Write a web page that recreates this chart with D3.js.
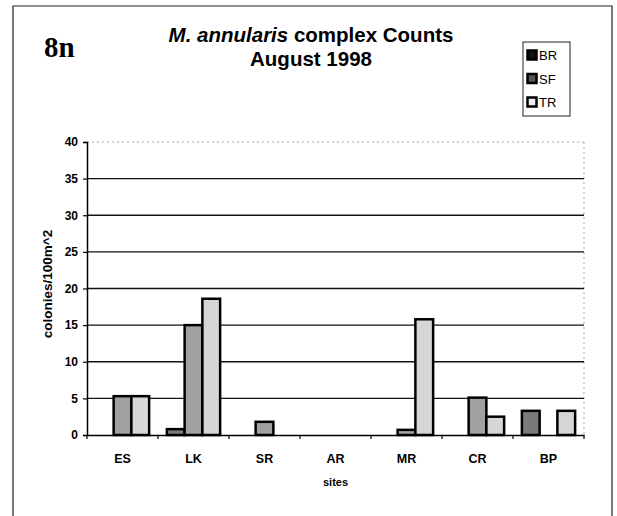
<!DOCTYPE html>
<html>
<head>
<meta charset="utf-8">
<script src="https://cdn.jsdelivr.net/npm/d3@7"></script>
<style>
  html, body { margin: 0; padding: 0; background: #fff; }
  svg { display: block; }
</style>
</head>
<body>
<svg id="chart" width="617" height="516"></svg>
<script>
const sites = ["ES", "LK", "SR", "AR", "MR", "CR", "BP"];
const seriesNames = ["BR", "SF", "TR"];
const BR = [0, 0.8, 0, 0, 0, 0, 3.3];
const SF = [5.3, 15.0, 1.8, 0, 0.7, 5.1, 0];
const TR = [5.3, 18.6, 0, 0, 15.8, 2.5, 3.3];
const yTicks = [0, 5, 10, 15, 20, 25, 30, 35, 40];
const colors = { BR: "#7a7a7a", SF: "#a0a0a0", TR: "#d6d6d6" };

const seriesValues = { BR, SF, TR };
const svg = d3.select("#chart");
const SANS = "Liberation Sans, Arial, sans-serif";

// outer frame
svg.append("path")
  .attr("d", "M13,520 L13,6 L612,6 L612,520")
  .attr("fill", "none").attr("stroke", "#222").attr("stroke-width", 1.2);

const plot = { left: 87, right: 584, top: 142, bottom: 435 };

const x = d3.scaleBand().domain(sites).range([plot.left, plot.right]).paddingInner(0).paddingOuter(0);
const xs = d3.scaleBand().domain(seriesNames).range([0, x.bandwidth()]).paddingInner(0).paddingOuter(0.5);
const y = d3.scaleLinear().domain([0, 40]).range([plot.bottom, plot.top]);

// plot area top/right dotted border
svg.append("line").attr("x1", plot.left).attr("x2", plot.right).attr("y1", y(40)).attr("y2", y(40))
  .attr("stroke", "#aaa").attr("stroke-dasharray", "2,3");
svg.append("line").attr("x1", plot.right).attr("x2", plot.right).attr("y1", y(40)).attr("y2", y(0))
  .attr("stroke", "#aaa").attr("stroke-dasharray", "2,3");

// gridlines
svg.append("g").selectAll("line").data(yTicks.filter(t => t > 0 && t < 40)).join("line")
  .attr("x1", plot.left).attr("x2", plot.right)
  .attr("y1", d => y(d)).attr("y2", d => y(d))
  .attr("stroke", "#111").attr("stroke-width", 1.3);

// bars
const g = svg.append("g");
sites.forEach((s, i) => {
  seriesNames.forEach(k => {
    const v = seriesValues[k][i];
    if (v <= 0) return;
    g.append("rect")
      .attr("x", x(s) + xs(k))
      .attr("y", y(v))
      .attr("width", xs.bandwidth())
      .attr("height", y(0) - y(v))
      .attr("fill", colors[k])
      .attr("stroke", "#000")
      .attr("stroke-width", 2.5);
  });
});

// y axis
const yAxis = d3.axisLeft(y).tickValues(yTicks).tickSize(4).tickPadding(5);
const ya = svg.append("g").attr("transform", `translate(${plot.left},0)`).call(yAxis);
ya.select(".domain").attr("stroke", "#000").attr("stroke-width", 1.5);
ya.selectAll(".tick line").attr("stroke", "#000").attr("stroke-width", 1.2);
ya.selectAll("text").attr("font-family", SANS)
  .attr("font-weight", "bold").attr("font-size", 12).attr("fill", "#000");

// x axis
const xAxis = d3.axisBottom(x).tickSize(0).tickPadding(19);
const xa = svg.append("g").attr("transform", `translate(0,${plot.bottom})`).call(xAxis);
xa.select(".domain").attr("stroke", "#000").attr("stroke-width", 1.5);
xa.selectAll("text").attr("font-family", SANS)
  .attr("font-weight", "bold").attr("font-size", 12.5).attr("fill", "#000");
// category boundary ticks
const bounds = sites.map(s => x(s)).concat([plot.right]);
xa.append("g").selectAll("line").data(bounds).join("line")
  .attr("x1", d => d).attr("x2", d => d).attr("y1", 0).attr("y2", 4)
  .attr("stroke", "#000").attr("stroke-width", 1.2);

// axis titles
svg.append("text").attr("x", (plot.left + plot.right) / 2).attr("y", 486)
  .attr("text-anchor", "middle").attr("font-family", SANS)
  .attr("font-weight", "bold").attr("font-size", 11).text("sites");
svg.append("text").attr("transform", `translate(52,284) rotate(-90)`)
  .attr("text-anchor", "middle").attr("font-family", SANS)
  .attr("font-weight", "bold").attr("font-size", 13.5).text("colonies/100m^2");

// title
const title = svg.append("text").attr("x", 311).attr("y", 42).attr("text-anchor", "middle")
  .attr("font-family", SANS).attr("font-weight", "bold").attr("font-size", 20.5);
title.append("tspan").attr("font-style", "italic").text("M. annularis");
title.append("tspan").text(" complex Counts");
svg.append("text").attr("x", 311).attr("y", 66).attr("text-anchor", "middle")
  .attr("font-family", SANS).attr("font-weight", "bold").attr("font-size", 20.5)
  .text("August 1998");

// panel label
svg.append("text").attr("x", 44).attr("y", 57)
  .attr("font-family", "Liberation Serif, Times New Roman, serif").attr("font-weight", "bold").attr("font-size", 29)
  .text("8n");

// legend
const lg = svg.append("g");
lg.append("rect").attr("x", 523).attr("y", 42).attr("width", 47).attr("height", 74)
  .attr("fill", "#fff").attr("stroke", "#222").attr("stroke-width", 1);
const legendColors = { BR: "#111", SF: "#555", TR: "#eee" };
seriesNames.forEach((k, i) => {
  const cy = 55 + i * 23.5;
  lg.append("rect").attr("x", 527.5).attr("y", cy - 4.5).attr("width", 9).attr("height", 9)
    .attr("fill", legendColors[k]).attr("stroke", "#000").attr("stroke-width", 2.5);
  lg.append("text").attr("x", 539).attr("y", cy + 5)
    .attr("font-family", SANS).attr("font-size", 13).text(k);
});
</script>
</body>
</html>
